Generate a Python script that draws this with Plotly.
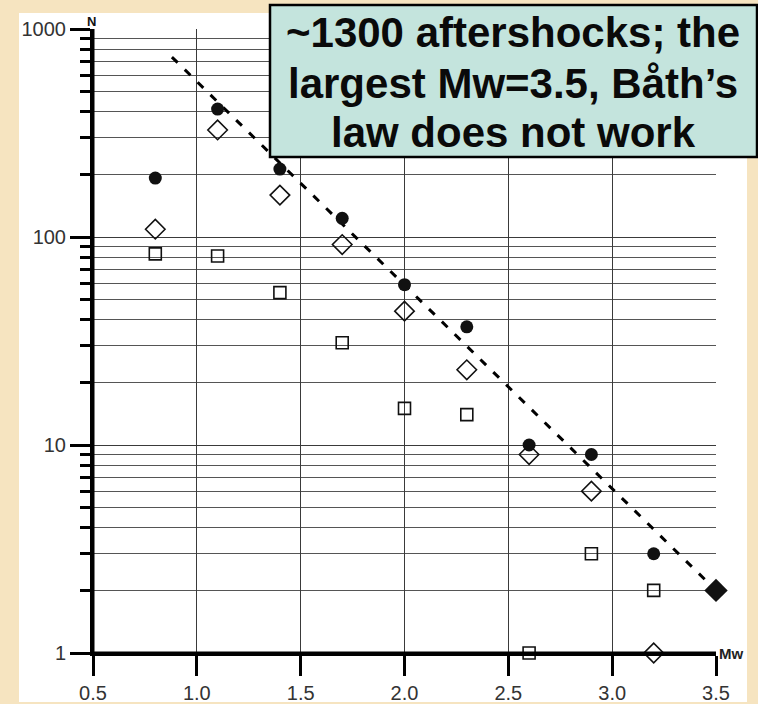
import math
import plotly.graph_objects as go

# ---- data ----
mag = [0.8, 1.1, 1.4, 1.7, 2.0, 2.3, 2.6, 2.9, 3.2]
n_circle = [192, 412, 212, 123, 59, 37, 10, 9, 3]
n_diamond = [109, 327, 159, 92, 44, 23, 9, 6, 1]
n_square = [83, 81, 54, 31, 15, 14, 1, 3, 2]
largest_mag = [3.5]
largest_n = [2]
fit_mag = [0.88, 3.5]
fit_n = [733, 2]

x_range = [0.5, 3.5]
y_range_log = [0, 3]
x_ticks = [0.5, 1.0, 1.5, 2.0, 2.5, 3.0, 3.5]
x_ticktext = ["0.5", "1.0", "1.5", "2.0", "2.5", "3.0", "3.5"]
y_ticks = [1, 10, 100, 1000]
y_ticktext = ["1", "10", "100", "1000"]
y_minor = [m * d for d in (1, 10, 100) for m in range(2, 10)]

title_lines = ["~1300 aftershocks; the", "largest Mw=3.5, Båth’s", "law does not work"]

# ---- geometry helpers (pixel -> paper) ----
W, H = 758, 704
L, R, T, B = 93, 716, 29, 653
PW, PH = R - L, B - T
X_PER_PX = (x_range[1] - x_range[0]) / PW
LOG_PER_PX = (y_range_log[1] - y_range_log[0]) / PH


def px(x):
    return (x - L) / PW


def py(y):
    return (B - y) / PH


def xdom(v):
    return (v - x_range[0]) / (x_range[1] - x_range[0])


def ydom(v):
    return (math.log10(v) - y_range_log[0]) / (y_range_log[1] - y_range_log[0])


FONT = "Liberation Sans, Arial, sans-serif"
BEIGE = "#F6E4C0"

fig = go.Figure()

fig.add_trace(go.Scatter(
    x=fit_mag, y=fit_n, mode="lines",
    line=dict(color="black", width=3, dash="8px,10px"),
    hoverinfo="skip", showlegend=False, cliponaxis=False))

fig.add_trace(go.Scatter(
    x=mag, y=n_square, mode="markers",
    marker=dict(symbol="square-open", size=12, color="#111", line=dict(width=1.6)),
    showlegend=False, cliponaxis=False))

fig.add_trace(go.Scatter(
    x=mag, y=n_diamond, mode="markers",
    marker=dict(symbol="diamond-open", size=15, color="#111", line=dict(width=1.6)),
    showlegend=False, cliponaxis=False))

fig.add_trace(go.Scatter(
    x=mag, y=n_circle, mode="markers",
    marker=dict(symbol="circle", size=13, color="#111"),
    showlegend=False, cliponaxis=False))

fig.add_trace(go.Scatter(
    x=largest_mag, y=largest_n, mode="markers",
    marker=dict(symbol="diamond", size=18, color="#111"),
    showlegend=False, cliponaxis=False))

# tick marks drawn as line markers just outside the axes (not clipped)
x_tick_y = 10 ** (y_range_log[0] - 10 * LOG_PER_PX)          # centre 10 px below axis
fig.add_trace(go.Scatter(
    x=x_ticks, y=[x_tick_y] * len(x_ticks), mode="markers",
    marker=dict(symbol="line-ns", size=20, color="black",
                line=dict(width=3, color="black")),
    hoverinfo="skip", showlegend=False, cliponaxis=False))
fig.add_trace(go.Scatter(
    x=[x_range[0] - 10 * X_PER_PX] * len(y_ticks), y=y_ticks, mode="markers",
    marker=dict(symbol="line-ew", size=20, color="black",
                line=dict(width=3, color="black")),
    hoverinfo="skip", showlegend=False, cliponaxis=False))
fig.add_trace(go.Scatter(
    x=[x_range[0] - 5 * X_PER_PX] * len(y_minor), y=y_minor, mode="markers",
    marker=dict(symbol="line-ew", size=10, color="black",
                line=dict(width=3, color="black")),
    hoverinfo="skip", showlegend=False, cliponaxis=False))

fig.update_layout(
    xaxis=dict(
        range=x_range, tickmode="array", tickvals=x_ticks, ticktext=x_ticktext,
        ticks="outside", ticklen=20, tickwidth=3, tickcolor="black",
        showline=True, linewidth=3, linecolor="black",
        showgrid=True, gridcolor="#3a3a3a", gridwidth=1,
        zeroline=False, automargin=False,
        tickfont=dict(family=FONT, size=20, color="#333"),
        ticklabelstandoff=0,
    ),
    yaxis=dict(
        type="log", range=y_range_log, tickmode="array", tickvals=y_ticks,
        ticktext=y_ticktext,
        ticks="outside", ticklen=20, tickwidth=3, tickcolor="black",
        showline=True, linewidth=3, linecolor="black",
        showgrid=True, gridcolor="#3a3a3a", gridwidth=1,
        zeroline=False, automargin=False,
        tickfont=dict(family=FONT, size=20, color="#333"),
        minor=dict(tickmode="array", tickvals=y_minor, ticks="outside", ticklen=10,
                   tickwidth=3, tickcolor="black", showgrid=True,
                   gridcolor="#555", gridwidth=1),
    ),
)

shapes = [
    # parchment frame around the white sheet
    dict(type="rect", xref="paper", yref="paper", layer="above",
         x0=px(0), x1=px(W), y0=py(13), y1=py(0), fillcolor=BEIGE, line=dict(width=0)),
    dict(type="rect", xref="paper", yref="paper", layer="above",
         x0=px(0), x1=px(W), y0=py(H), y1=py(702), fillcolor=BEIGE, line=dict(width=0)),
    dict(type="rect", xref="paper", yref="paper", layer="above",
         x0=px(0), x1=px(19), y0=py(H), y1=py(0), fillcolor=BEIGE, line=dict(width=0)),
    dict(type="rect", xref="paper", yref="paper", layer="above",
         x0=px(747), x1=px(W), y0=py(H), y1=py(0), fillcolor=BEIGE, line=dict(width=0)),
]

AX = dict(color="black", width=3)
# axis lines
shapes.append(dict(type="line", xref="paper", yref="paper", x0=0, x1=0,
                   y0=ydom(y_ticks[0]), y1=ydom(y_ticks[-1]), line=AX, layer="above"))
shapes.append(dict(type="line", xref="paper", yref="paper", x0=xdom(x_ticks[0]),
                   x1=xdom(x_ticks[-1]), y0=0, y1=0, line=AX, layer="above"))

# text box
shapes.append(dict(type="rect", xref="paper", yref="paper", layer="above",
                   x0=px(270), x1=px(757), y0=py(157), y1=py(5),
                   fillcolor="#C4E4DD", line=dict(color="black", width=2.5)))

annotations = [
    dict(text="<b>N</b>", x=px(91), y=py(21), xref="paper", yref="paper",
         showarrow=False, font=dict(family=FONT, size=13, color="#111"),
         xanchor="center", yanchor="middle"),
    dict(text="<b>Mw</b>", x=px(717), y=py(653), xref="paper", yref="paper",
         showarrow=False, font=dict(family=FONT, size=15, color="#222"),
         xanchor="left", yanchor="middle"),
]
for line, yc in zip(title_lines, [33, 83, 132]):
    annotations.append(dict(
        text="<b>" + line + "</b>", x=px(513), y=py(yc), xref="paper", yref="paper",
        showarrow=False, font=dict(family=FONT, size=42, color="#0a0a0a"),
        xanchor="center", yanchor="middle"))

fig.update_layout(
    width=W, height=H, autosize=False,
    margin=dict(l=L, r=W - R, t=T, b=H - B, pad=0),
    paper_bgcolor="white", plot_bgcolor="white",
    shapes=shapes, annotations=annotations, showlegend=False,
)

fig.write_html("out.html")
